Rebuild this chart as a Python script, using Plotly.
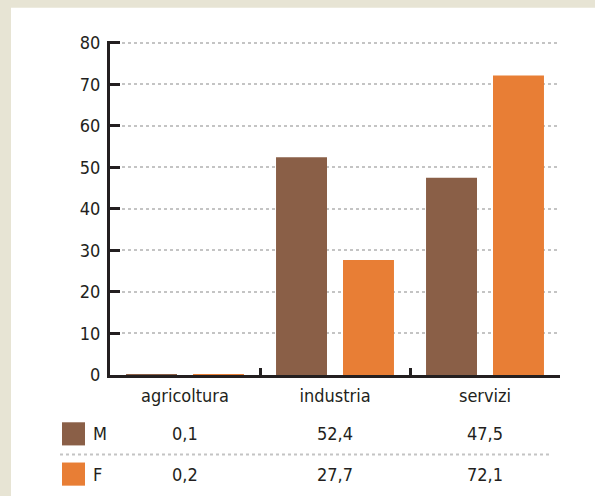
import plotly.graph_objects as go

categories = ["agricoltura", "industria", "servizi"]
series_names = ["M", "F"]
values_m = [0.1, 52.4, 47.5]
values_f = [0.2, 27.7, 72.1]
value_labels_m = ["0,1", "52,4", "47,5"]
value_labels_f = ["0,2", "27,7", "72,1"]
y_ticks = [0, 10, 20, 30, 40, 50, 60, 70, 80]

C_M = "#8A5F47"
C_F = "#E87E35"
TXT = "#231F20"
GRID = "#C4C4C4"
BEIGE = "#E7E4D4"
FONT = "DejaVu Sans Condensed, Liberation Sans, sans-serif"

W, H = 595, 496
L, R, T, B = 110, 35, 43, 121
PW, PH = W - L - R, H - T - B
YMAX = 80.4


def px_x(x):
    return (x - L) / PW


def px_y(y):
    return (H - B - y) / PH


fig = go.Figure()
fig.add_bar(x=categories, y=values_m, name="M", marker=dict(color=C_M, line_width=0))
fig.add_bar(x=categories, y=values_f, name="F", marker=dict(color=C_F, line_width=0))

fig.update_layout(
    width=W, height=H,
    margin=dict(l=L, r=R, t=T - 2, b=B),
    paper_bgcolor="white", plot_bgcolor="white",
    barmode="group", bargap=0.107, bargroupgap=0.239,
    showlegend=False,
    font=dict(family=FONT, size=18, color=TXT),
)

fig.update_yaxes(
    range=[0, YMAX], tickvals=y_ticks,
    showgrid=True, gridcolor=GRID, gridwidth=2, griddash="dot",
    zeroline=False,
    showline=True, linecolor=TXT, linewidth=3,
    ticks="inside", ticklen=10, tickwidth=3, tickcolor=TXT,
    ticklabelstandoff=3,
    tickfont=dict(size=18, color=TXT),
)
fig.update_xaxes(
    type="category", range=[-0.5, 2.5],
    showgrid=False, zeroline=False,
    showline=True, linecolor=TXT, linewidth=3,
    ticks="inside", tickson="boundaries", ticklen=7, tickwidth=3, tickcolor=TXT,
    ticklabelstandoff=2,
    tickfont=dict(size=18, color=TXT),
)

shapes = []
shapes.append(dict(type="rect", xref="paper", yref="paper", x0=px_x(0), x1=px_x(W), y0=px_y(0), y1=px_y(10),
                   fillcolor=BEIGE, line_width=0, layer="below"))
shapes.append(dict(type="rect", xref="paper", yref="paper", x0=px_x(0), x1=px_x(11), y0=px_y(0), y1=px_y(H),
                   fillcolor=BEIGE, line_width=0, layer="below"))
rows = [(series_names[0], C_M, value_labels_m, 433.5), (series_names[1], C_F, value_labels_f, 473.5)]
for name, col, labs, yc in rows:
    shapes.append(dict(type="rect", xref="paper", yref="paper",
                       x0=px_x(62), x1=px_x(85), y0=px_y(yc - 11.5), y1=px_y(yc + 11.5),
                       fillcolor=col, line_width=0))
shapes.append(dict(type="line", xref="paper", yref="paper", x0=px_x(60), x1=px_x(549), y0=px_y(454), y1=px_y(454),
                   line=dict(color=GRID, width=2, dash="dot")))
fig.update_layout(shapes=shapes)

annotations = []
for name, col, labs, yc in rows:
    annotations.append(dict(xref="paper", yref="paper", x=px_x(91), y=px_y(yc), text=name,
                            showarrow=False, xanchor="left", yanchor="middle",
                            font=dict(size=18, color=TXT)))
    for cat, lab in zip(categories, labs):
        annotations.append(dict(xref="x", yref="paper", x=cat, y=px_y(yc), text=lab,
                                showarrow=False, xanchor="center", yanchor="middle",
                                font=dict(size=18, color=TXT)))
fig.update_layout(annotations=annotations)

fig.write_html("out.html", config={"displayModeBar": False},
               post_script="document.body.style.margin='0';document.body.style.padding='0';")
